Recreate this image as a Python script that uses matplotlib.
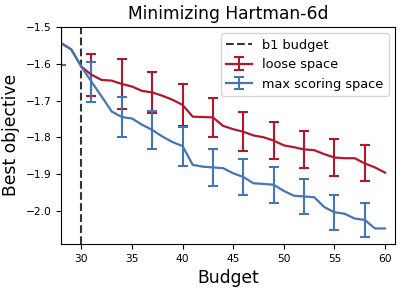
import numpy as np
import matplotlib
matplotlib.use('Agg')
import matplotlib.pyplot as plt

budget = np.arange(28, 61)

loose_mean = [-1.544, -1.561, -1.608, -1.630, -1.644, -1.646, -1.655, -1.662, -1.674,
              -1.678, -1.687, -1.698, -1.712, -1.744, -1.745, -1.746, -1.769, -1.778,
              -1.785, -1.795, -1.800, -1.809, -1.822, -1.827, -1.833, -1.835, -1.846,
              -1.855, -1.857, -1.857, -1.871, -1.882, -1.896]
loose_err = [0.059, 0.0, 0.0, 0.057, 0.0, 0.0, 0.068, 0.0, 0.0, 0.056, 0.0, 0.0, 0.058,
             0.0, 0.0, 0.053, 0.0, 0.0, 0.053, 0.0, 0.0, 0.050, 0.0, 0.0, 0.050, 0.0,
             0.0, 0.049, 0.0, 0.0, 0.049, 0.0, 0.0]

max_mean = [-1.544, -1.561, -1.608, -1.649, -1.689, -1.730, -1.745, -1.749, -1.766,
            -1.780, -1.798, -1.813, -1.824, -1.875, -1.880, -1.882, -1.884, -1.898,
            -1.908, -1.925, -1.927, -1.929, -1.946, -1.959, -1.961, -1.963, -1.990,
            -2.004, -2.008, -2.021, -2.025, -2.048, -2.048]
max_err = [0.059, 0.0, 0.0, 0.055, 0.0, 0.0, 0.054, 0.0, 0.0, 0.052, 0.0, 0.0, 0.053,
           0.0, 0.0, 0.050, 0.0, 0.0, 0.048, 0.0, 0.0, 0.049, 0.0, 0.0, 0.047, 0.0,
           0.0, 0.048, 0.0, 0.0, 0.047, 0.0, 0.0]

b1 = 30

fig = plt.figure(figsize=(4.02, 2.9), dpi=100)
ax = fig.add_axes([0.152, 0.159, 0.831, 0.748])

ax.axvline(b1, color='#333333', linestyle='--', linewidth=1.5, label='b1 budget')
ax.errorbar(budget, loose_mean, yerr=loose_err, errorevery=3, color='#b2182b',
            linewidth=1.6, capsize=3.3, elinewidth=1.5, capthick=1.5, label='loose space')
ax.errorbar(budget, max_mean, yerr=max_err, errorevery=3, color='#4575b4',
            linewidth=1.6, capsize=3.3, elinewidth=1.5, capthick=1.5,
            label='max scoring space')

ax.set_xlim(28, 61)
ax.set_ylim(-2.09, -1.5)
ax.set_xticks([30, 35, 40, 45, 50, 55, 60])
ax.set_yticks([-2.0, -1.9, -1.8, -1.7, -1.6, -1.5])
ax.tick_params(labelsize=7.7)
ax.set_xlabel('Budget', fontsize=12.3)
ax.set_ylabel('Best objective', fontsize=12.3)
ax.set_title('Minimizing Hartman-6d', fontsize=12.3)
ax.legend(loc='upper right', fontsize=9.3)

fig.savefig('out.png', dpi=100)
